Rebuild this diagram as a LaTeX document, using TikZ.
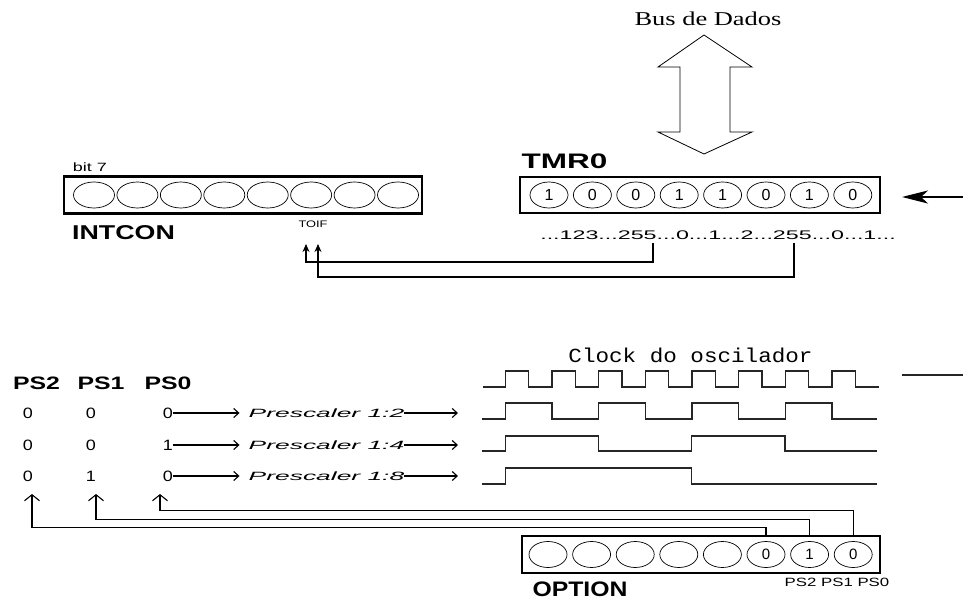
\documentclass[tikz,border=0pt]{standalone}
\usepackage{fontspec}
\usepackage{graphicx}
\setmainfont{Liberation Sans}
\newfontfamily\seriffam{Liberation Serif}
\newfontfamily\monofam{Liberation Mono}
\usetikzlibrary{shapes.geometric,arrows.meta,calc}
\newcommand{\fs}[1]{\fontsize{#1}{#1}\selectfont}
\newcommand{\sx}[2]{\scalebox{#1}[1]{#2}}
\tikzset{
  reg/.style={draw, line width=2.4pt, minimum width=358pt, minimum height=37pt, inner sep=0pt},
  bitc/.style={draw, ellipse, line width=0.7pt, minimum width=38pt, minimum height=26pt, inner sep=0pt, font=\fs{16}},
  bitw/.style={bitc, minimum width=41pt},
  wire/.style={line width=1.1pt},
  wave/.style={line width=1.3pt, black!85},
  lbl/.style={inner sep=0pt, anchor=center},
  barb/.style={-{Straight Barb[length=5pt,width=9pt]}},
  upbarb/.style={-{Straight Barb[length=6pt,width=15pt]}},
  fill tip/.style={-{Stealth[length=8pt,width=7pt]}},
}
\begin{document}
\begin{tikzpicture}[x=1pt,y=-1pt]
\useasboundingbox (0,0) rectangle (963,601);

% ---- Bus de Dados ----
\node[lbl] (bus) at (708,19) {\seriffam\fs{19.6}\sx{1.35}{Bus de Dados}};
\draw[line width=0.8pt] (704,35) -- (752,67) -- (730,67) -- (730,132) -- (752,132)
  -- (704,154) -- (658,132) -- (680,132) -- (680,67) -- (658,67) -- cycle;

% ---- INTCON ----
\node[reg] (intcon) at (243,195) {};
\foreach \i in {0,...,7} {
  \node[bitw] (ib\i) at (94+43.43*\i,195) {};
}
\node[lbl] (bit7) at (90,167) {\fs{12}\sx{1.5}{bit 7}};
\node[lbl] (intconlbl) at (123.5,233) {\bfseries\fs{20}\sx{1.34}{INTCON}};
\node[lbl] (toif) at (313,224) {\fs{9.5}\sx{1.35}{TOIF}};

% ---- TMR0 ----
\node[reg, minimum width=360pt, minimum height=36pt] (tmr) at (700,195) {};
\foreach \i/\v in {0/1,1/0,2/0,3/1,4/1,5/0,6/1,7/0} {
  \node[bitc] (tb\i) at (549+43.4*\i,195) {\v};
}
\node[lbl] (tmrlbl) at (564.5,161) {\bfseries\fs{21}\sx{1.5}{TMR0}};
\node[lbl] (seq) at (718,235) {\fs{12.5}\sx{1.86}{...123...255...0...1...2...255...0...1...}};

\coordinate (tin) at (963,197);
\coordinate (tinend) at (902,197);
\draw[wire, -{Stealth[length=26pt,width=13pt,inset=7pt]}] (tin) -- (tinend);

% TOIF connectors
\coordinate (c255a) at (653,243);
\coordinate (c255b) at (794,243);
\coordinate (toifA) at (306,244);
\coordinate (toifB) at (318,244);
\draw[wire, fill tip] (c255a) -- ++(0,19) -| (toifA);
\draw[wire, fill tip] (c255b) -- ++(0,34) -| (toifB);

% ---- Clock ----
\node[lbl] (clk) at (690.5,355) {\monofam\fs{20}\sx{1.13}{Clock do oscilador}};
\draw[wave] (483,387)
  \foreach \k in {0,...,7} { -- ({505.3+46.67*\k},387) -- ({505.3+46.67*\k},371)
     -- ({528.6+46.67*\k},371) -- ({528.6+46.67*\k},387) } -- (879,387);
\coordinate (clkin) at (902,375);
\coordinate (clkinend) at (963,375);
\draw[wave] (clkin) -- (clkinend);

\draw[wave] (482,419)
  \foreach \k in {0,...,3} { -- ({505.3+93.33*\k},419) -- ({505.3+93.33*\k},403)
     -- ({551.9+93.33*\k},403) -- ({551.9+93.33*\k},419) } -- (877,419);
\draw[wave] (482,451) -- (505.3,451) -- (505.3,436) -- (598.3,436) -- (598.3,451)
  -- (691.7,451) -- (691.7,436) -- (785,436) -- (785,451) -- (877,451);
\draw[wave] (482,484) -- (505.3,484) -- (505.3,468) -- (691.7,468) -- (691.7,484) -- (877,484);

% ---- Table ----
\node[lbl] (hps2) at (36.5,383) {\bfseries\fs{18}\sx{1.38}{PS2}};
\node[lbl] (hps1) at (101,383) {\bfseries\fs{18}\sx{1.38}{PS1}};
\node[lbl] (hps0) at (168,383) {\bfseries\fs{18}\sx{1.38}{PS0}};

\foreach \r/\y/\a/\b/\c/\n in {1/413/0/0/0/2, 2/445/0/0/1/4, 3/476/0/1/0/8} {
  \node[lbl] (d\r a) at (28,\y) {\fs{15}\sx{1.2}{\a}};
  \node[lbl] (d\r b) at (91,\y) {\fs{15}\sx{1.2}{\b}};
  \node[lbl] (d\r c) at (168,\y) {\fs{15}\sx{1.2}{\c}};
  \node[lbl] (p\r) at (326.5,\y) {\itshape\fs{12}\sx{2.2}{Prescaler 1:\n}};
  \coordinate (e\r) at (458,\y);
  \draw[wire, barb] (d\r c.east) -- ([xshift=-9pt]p\r.west);
  \draw[wire, barb] (p\r.east) -- (e\r);
}

% ---- OPTION ----
\node[reg, minimum height=37pt] (opt) at (701,554.5) {};
\foreach \i/\v in {0/,1/,2/,3/,4/,5/0,6/1,7/0} {
  \node[bitc, font=\fs{15}] (ob\i) at (548+43.6*\i,554.5) {\v};
}
\node[lbl] (optlbl) at (580,589) {\bfseries\fs{21}\sx{1.18}{OPTION}};
\node[lbl] (pslbl) at (837,582) {\fs{12}\sx{1.4}{PS2 PS1 PS0}};

\coordinate (u2) at (32,494);
\coordinate (u1) at (96,494);
\coordinate (u0) at (160,494);
\draw[wire, upbarb] (opt.north -| ob5) -- ++(0,-7.5) -| (u2);
\draw[wire, upbarb] (opt.north -| ob6) -- ++(0,-15.5) -| (u1);
\draw[wire, upbarb] (opt.north -| ob7) -- ++(0,-24.5) -| (u0);
\end{tikzpicture}
\end{document}
